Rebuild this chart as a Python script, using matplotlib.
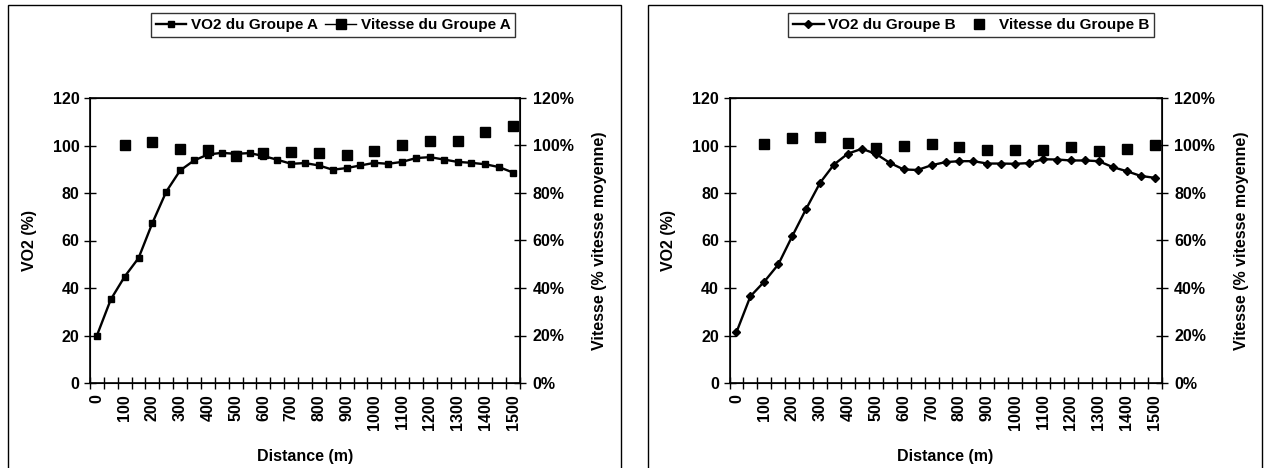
import numpy as np
import matplotlib
matplotlib.use("Agg")
import matplotlib.pyplot as plt
from matplotlib.lines import Line2D
from matplotlib.patches import Rectangle

plt.rcParams['font.family'] = ['Liberation Sans', 'DejaVu Sans']
plt.rcParams['font.size'] = 11.5
plt.rcParams['font.weight'] = 'bold'
plt.rcParams['axes.labelweight'] = 'bold'

# distances (m), one point every 50 m for VO2, every 100 m for speed
dist = np.arange(0, 1501, 50)
dist_v = np.arange(100, 1501, 100)

vo2_a = [20, 35.2, 44.8, 52.6, 67.4, 80.6, 89.5, 93.7, 96.2, 96.9, 96.5,
         96.8, 95.6, 94.0, 92.3, 92.6, 91.6, 89.8, 90.5, 91.6, 92.7, 92.3,
         93.1, 94.7, 95.1, 94.1, 93.1, 92.7, 92.1, 90.9, 88.6]
vit_a = [100.3, 101.5, 98.7, 97.9, 95.4, 96.8, 97.2, 96.8, 96.1, 97.5,
         100.3, 102.1, 102.1, 105.5, 108.0]

vo2_b = [21.4, 36.5, 42.7, 49.9, 61.8, 73.3, 84.3, 92.0, 96.6, 98.6, 96.5,
         92.7, 89.9, 89.7, 91.7, 93.0, 93.4, 93.4, 92.4, 92.4, 92.3, 92.6,
         94.2, 94.1, 93.7, 93.7, 93.4, 90.9, 89.2, 87.2, 86.4]
vit_b = [100.7, 103.2, 103.4, 101.1, 99.0, 99.7, 100.8, 99.3, 97.9, 97.9,
         98.0, 99.3, 97.6, 98.6, 100.0]

yticks = np.arange(0, 121, 20)

W, H = 1266, 468
fig = plt.figure(figsize=(W / 100, H / 100), dpi=100)


def panel(left, width, vo2, vit, group, vo2_marker, vo2_ms, vit_line, leg_x):
    ax = fig.add_axes([left / W, (H - 383) / H, width / W, 285 / H])
    ax.plot(dist, vo2, color='black', lw=1.7, marker=vo2_marker, ms=vo2_ms,
            mfc='black', mec='black')
    ax.set_xlim(-25, 1525)
    ax.set_ylim(0, 120)
    ax.set_yticks(yticks)
    ax.set_xticks(np.arange(0, 1501, 100))
    ax.set_xticklabels([str(d) for d in range(0, 1501, 100)], rotation=90)
    ax.set_xticks(np.arange(-25, 1526, 50), minor=True)
    ax.tick_params(axis='x', which='major', length=0, pad=8)
    ax.tick_params(axis='x', which='minor', direction='inout', length=8, width=1)
    ax.tick_params(axis='y', direction='inout', length=8, width=1)
    for s in ax.spines.values():
        s.set_linewidth(1.2)
    ax.set_ylabel('VO2 (%)')
    ax.yaxis.set_label_coords(-0.123, 0.5)
    ax.set_xlabel('Distance (m)')
    ax.xaxis.set_label_coords(0.5, -0.232)

    ax2 = ax.twinx()
    ax2.plot(dist_v, vit, ls='none', marker='s', ms=7, mfc='black', mec='black')
    ax2.set_ylim(0, 120)
    ax2.set_yticks(yticks)
    ax2.set_yticklabels([f'{v}%' for v in yticks])
    ax2.tick_params(axis='y', direction='inout', length=8, width=1, pad=5)
    ax2.set_ylabel('Vitesse (% vitesse moyenne)')
    ax2.yaxis.set_label_coords(1.168, 0.5)

    handles = [
        Line2D([], [], color='black', lw=1.7, marker=vo2_marker, ms=vo2_ms),
        Line2D([], [], color='black', lw=1.0 if vit_line else 0,
               marker='s', ms=7),
    ]
    labels = [f'VO2 du Groupe {group}', f'Vitesse du Groupe {group}']
    leg = fig.legend(handles, labels, loc='center', ncol=2,
                     bbox_to_anchor=(leg_x / W, 1 - 25 / H),
                     frameon=True, fancybox=False, edgecolor='black',
                     borderpad=0.3, handlelength=2.0, handletextpad=0.3,
                     columnspacing=0.5, fontsize=11)
    leg.get_frame().set_linewidth(1.0)
    return ax


panel(90, 430, vo2_a, vit_a, 'A', 's', 4.5, True, 333)
panel(729.5, 432, vo2_b, vit_b, 'B', 'D', 4.5, False, 971)

# chart area borders
for x0, x1 in [(8, 621), (648, 1262)]:
    fig.add_artist(Rectangle((x0 / W, -0.05), (x1 - x0) / W, 1.05 - 5 / H,
                             transform=fig.transFigure, fill=False,
                             edgecolor='black', lw=1.0))

fig.savefig('out.png', dpi=100)
